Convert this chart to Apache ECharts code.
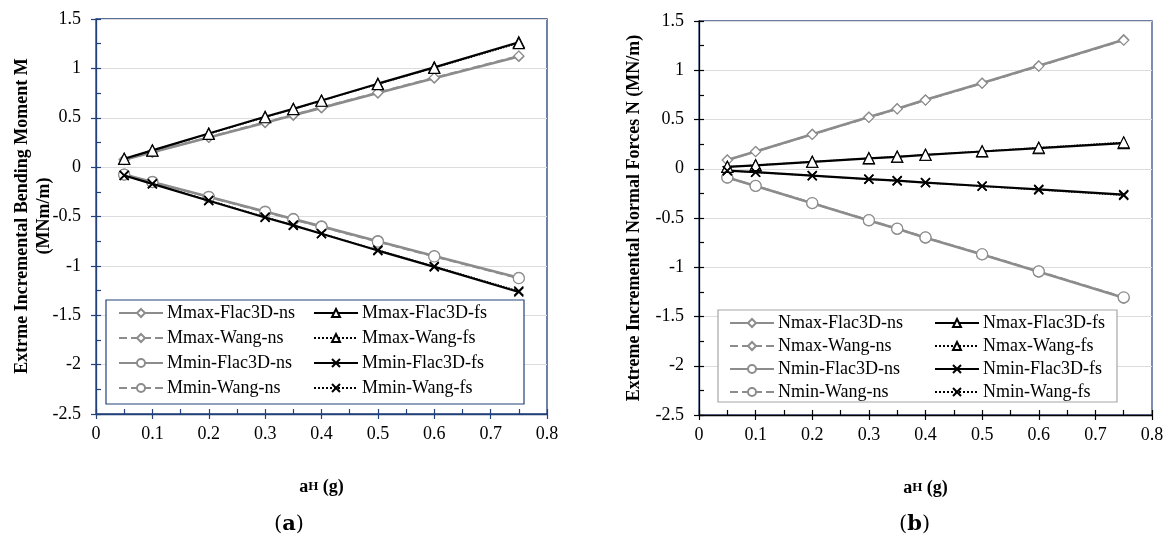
<!DOCTYPE html>
<html>
<head>
<meta charset="utf-8">
<script src="https://cdn.jsdelivr.net/npm/echarts@6/dist/echarts.min.js"></script>
<style>html,body{margin:0;padding:0;background:#fff}#c{width:1169px;height:544px}</style>
</head>
<body>
<div id="c"></div>
<script>
// ---- data ----
const aH = [0.05, 0.1, 0.2, 0.3, 0.35, 0.4, 0.5, 0.6, 0.75];
// chart (a): bending moment
const MmaxFlacNs = [0.075, 0.15, 0.30, 0.45, 0.525, 0.60, 0.75, 0.90, 1.12];
const MmaxWangNs = [0.076, 0.152, 0.303, 0.455, 0.530, 0.605, 0.755, 0.905, 1.125];
const MminFlacNs = [-0.075, -0.15, -0.30, -0.45, -0.525, -0.60, -0.75, -0.90, -1.12];
const MminWangNs = [-0.076, -0.152, -0.303, -0.455, -0.530, -0.605, -0.755, -0.905, -1.125];
const MmaxFlacFs = [0.085, 0.17, 0.34, 0.51, 0.59, 0.675, 0.845, 1.01, 1.265];
const MmaxWangFs = [0.084, 0.168, 0.336, 0.505, 0.588, 0.672, 0.84, 1.005, 1.255];
const MminFlacFs = [-0.085, -0.17, -0.34, -0.51, -0.59, -0.675, -0.845, -1.01, -1.265];
const MminWangFs = [-0.084, -0.168, -0.336, -0.505, -0.588, -0.672, -0.84, -1.005, -1.255];
// chart (b): normal forces
const NmaxFlacNs = [0.09, 0.175, 0.35, 0.525, 0.61, 0.70, 0.87, 1.045, 1.31];
const NmaxWangNs = [0.088, 0.174, 0.348, 0.522, 0.608, 0.697, 0.868, 1.042, 1.305];
const NminFlacNs = [-0.09, -0.175, -0.35, -0.525, -0.61, -0.70, -0.87, -1.045, -1.31];
const NminWangNs = [-0.088, -0.174, -0.348, -0.522, -0.608, -0.697, -0.868, -1.042, -1.305];
const NmaxFlacFs = [0.02, 0.035, 0.07, 0.105, 0.12, 0.14, 0.175, 0.21, 0.26];
const NmaxWangFs = [0.02, 0.036, 0.071, 0.107, 0.123, 0.142, 0.178, 0.214, 0.268];
const NminFlacFs = [-0.02, -0.035, -0.07, -0.105, -0.12, -0.14, -0.175, -0.21, -0.262];
const NminWangFs = [-0.02, -0.036, -0.071, -0.107, -0.123, -0.142, -0.178, -0.214, -0.27];
// axis titles
const yTitleA1 = 'Extrme Incremental Bending Moment M';
const yTitleA2 = '(MNm/m)';
const yTitleB = 'Extreme Incremental Normal Forces N (MN/m)';

const FONT = 'Liberation Serif';
const FS = 18;
const NAVY = '#22407a';
const GRAY = '#8c8c8c';
const crossPath = 'path://M0,0L10,10M10,0L0,10';

function pts(ys){ return aH.map((x,i)=>[x, ys[i]]); }

function mk(name, ys, gi, kind){
  const parts = kind.split('|');
  const grp = parts[0], src = parts[1], mark = parts[2];
  const isNs = grp === 'ns';
  const color = isNs ? GRAY : '#000';
  let lineType = 'solid', width = isNs ? 2.6 : 2.2;
  if (src === 'wang') { lineType = isNs ? 'dashed' : 'dotted'; width = isNs ? 2 : 1.4; }
  let symbol = mark === 'diamond' ? 'diamond' : mark === 'circle' ? 'circle' : mark === 'triangle' ? 'triangle' : crossPath;
  let size = mark === 'diamond' ? 10 : mark === 'circle' ? 11 : mark === 'triangle' ? 11 : 9;
  return {
    name, type: 'line', xAxisIndex: gi*2, yAxisIndex: gi*2, data: pts(ys),
    symbol, symbolSize: size, showSymbol: true,
    lineStyle: {color, width, type: lineType},
    itemStyle: {color: mark === 'cross' ? 'rgba(0,0,0,0)' : '#fff', borderColor: color, borderWidth: mark === 'cross' ? 1.6 : 1.2},
    emphasis: {disabled: true}, animation: false, z: isNs ? 2 : 3
  };
}

const grids = [
  {left: 96, top: 19, width: 451, height: 395, borderColor: NAVY, axisColor: NAVY},
  {left: 699, top: 21, width: 453, height: 394, borderColor: '#3b5286', axisColor: '#000'}
];

const xAxes = [], yAxes = [];
grids.forEach((g, gi) => {
  const common = {gridIndex: gi, type: 'value', min: 0, max: 0.8, interval: 0.1};
  xAxes.push(Object.assign({}, common, {
    position: 'bottom',
    axisLine: {show: true, onZero: false, lineStyle: {color: g.axisColor, width: 1.3}},
    axisTick: {show: true, inside: false, length: 5, lineStyle: {color: g.axisColor, width: 1.2}},
    axisLabel: {fontFamily: FONT, fontSize: FS, color: '#000', margin: 11},
    splitLine: {show: false},
    name: '{a|a}{h|H} (g)', nameLocation: 'middle', nameGap: 64,
    nameTextStyle: {fontFamily: FONT, fontSize: FS, fontWeight: 'bold', color: '#000',
      rich: {a: {fontFamily: FONT, fontSize: FS, fontWeight: 'bold', color: '#000'},
             h: {fontFamily: FONT, fontSize: 13, fontWeight: 'bold', color: '#000'}}}
  }));
  xAxes.push(Object.assign({}, common, {
    position: 'bottom',
    axisLine: {show: false, onZero: false},
    axisTick: {show: true, inside: true, length: 5, lineStyle: {color: g.axisColor, width: 1.2}},
    minorTick: {show: true, splitNumber: 2, length: 5, lineStyle: {color: g.axisColor, width: 1.2}},
    axisLabel: {show: false}, splitLine: {show: false}
  }));
  const ycommon = {gridIndex: gi, type: 'value', min: -2.5, max: 1.5, interval: 0.5};
  yAxes.push(Object.assign({}, ycommon, {
    position: 'left',
    axisLine: {show: true, onZero: false, lineStyle: {color: g.axisColor, width: 1.3}},
    axisTick: {show: true, inside: false, length: 5, lineStyle: {color: g.axisColor, width: 1.2}},
    axisLabel: {fontFamily: FONT, fontSize: FS, color: '#000', margin: 15},
    splitLine: {show: true, lineStyle: {color: '#dcdcdc', width: 1}},
    name: gi === 0 ? '' : yTitleB,
    nameLocation: 'middle', nameGap: 56,
    nameTextStyle: {fontFamily: FONT, fontSize: FS, fontWeight: 'bold', color: '#000'}
  }));
  yAxes.push(Object.assign({}, ycommon, {
    position: 'left',
    axisLine: {show: false, onZero: false},
    axisTick: {show: true, inside: true, length: 5, lineStyle: {color: g.axisColor, width: 1.2}},
    minorTick: {show: true, splitNumber: 2, length: 5, lineStyle: {color: g.axisColor, width: 1.2}},
    axisLabel: {show: false}, splitLine: {show: false}
  }));
});

const series = [
  mk('Mmax-Flac3D-ns', MmaxFlacNs, 0, 'ns|flac|diamond'),
  mk('Mmax-Wang-ns', MmaxWangNs, 0, 'ns|wang|diamond'),
  mk('Mmin-Flac3D-ns', MminFlacNs, 0, 'ns|flac|circle'),
  mk('Mmin-Wang-ns', MminWangNs, 0, 'ns|wang|circle'),
  mk('Mmax-Flac3D-fs', MmaxFlacFs, 0, 'fs|flac|triangle'),
  mk('Mmax-Wang-fs', MmaxWangFs, 0, 'fs|wang|triangle'),
  mk('Mmin-Flac3D-fs', MminFlacFs, 0, 'fs|flac|cross'),
  mk('Mmin-Wang-fs', MminWangFs, 0, 'fs|wang|cross'),
  mk('Nmax-Flac3D-ns', NmaxFlacNs, 1, 'ns|flac|diamond'),
  mk('Nmax-Wang-ns', NmaxWangNs, 1, 'ns|wang|diamond'),
  mk('Nmin-Flac3D-ns', NminFlacNs, 1, 'ns|flac|circle'),
  mk('Nmin-Wang-ns', NminWangNs, 1, 'ns|wang|circle'),
  mk('Nmax-Flac3D-fs', NmaxFlacFs, 1, 'fs|flac|triangle'),
  mk('Nmax-Wang-fs', NmaxWangFs, 1, 'fs|wang|triangle'),
  mk('Nmin-Flac3D-fs', NminFlacFs, 1, 'fs|flac|cross'),
  mk('Nmin-Wang-fs', NminWangFs, 1, 'fs|wang|cross')
];

function leg(names, left, top, gap){
  return {orient: 'vertical', left, top, itemWidth: 44, itemHeight: 10, itemGap: gap,
    selectedMode: false, data: names, padding: 0, z: 20,
    textStyle: {fontFamily: FONT, fontSize: FS, lineHeight: 18, color: '#000', padding: [0,0,0,-1]}};
}

function vtitle(text, x, y){
  return {type: 'text', x, y, rotation: Math.PI/2, z: 10,
    style: {text, fontFamily: FONT, fontSize: FS, fontWeight: 'bold', fill: '#000', align: 'center', verticalAlign: 'middle'}};
}

const option = {
  animation: false,
  backgroundColor: '#fff',
  grid: grids.map(g => ({left: g.left, top: g.top, width: g.width, height: g.height, show: true, borderColor: g.borderColor, borderWidth: 1.3, containLabel: false})),
  xAxis: xAxes, yAxis: yAxes,
  legend: [
    leg(['Mmax-Flac3D-ns','Mmax-Wang-ns','Mmin-Flac3D-ns','Mmin-Wang-ns'], 118, 304, 7),
    leg(['Mmax-Flac3D-fs','Mmax-Wang-fs','Mmin-Flac3D-fs','Mmin-Wang-fs'], 313, 304, 7),
    leg(['Nmax-Flac3D-ns','Nmax-Wang-ns','Nmin-Flac3D-ns','Nmin-Wang-ns'], 729, 314, 5),
    leg(['Nmax-Flac3D-fs','Nmax-Wang-fs','Nmin-Flac3D-fs','Nmin-Wang-fs'], 934, 314, 5)
  ],
  graphic: [
    {type: 'rect', shape: {x: 106, y: 300, width: 418, height: 104}, style: {fill: '#fff', stroke: NAVY, lineWidth: 1.2}, z: 5},
    {type: 'rect', shape: {x: 718, y: 310, width: 399, height: 92}, style: {fill: '#fff', stroke: '#a6a6a6', lineWidth: 1.2}, z: 5},
    vtitle(yTitleA1, 22, 216),
    vtitle(yTitleA2, 44, 216),
    {type: 'text', left: 274, top: 514, style: {rich: {p: {fontFamily: 'DejaVu Serif', fontSize: 21, fill: '#000'}, b: {fontFamily: 'DejaVu Serif', fontSize: 21, fontWeight: 'bold', fill: '#000'}}, text: '{p|(}{b|a}{p|)}'}},
    {type: 'text', left: 899, top: 514, style: {rich: {p: {fontFamily: 'DejaVu Serif', fontSize: 21, fill: '#000'}, b: {fontFamily: 'DejaVu Serif', fontSize: 21, fontWeight: 'bold', fill: '#000'}}, text: '{p|(}{b|b}{p|)}'}}
  ],
  series
};
const chart = echarts.init(document.getElementById('c'), null, {renderer: 'canvas'});
chart.setOption(option);
</script>
</body>
</html>
